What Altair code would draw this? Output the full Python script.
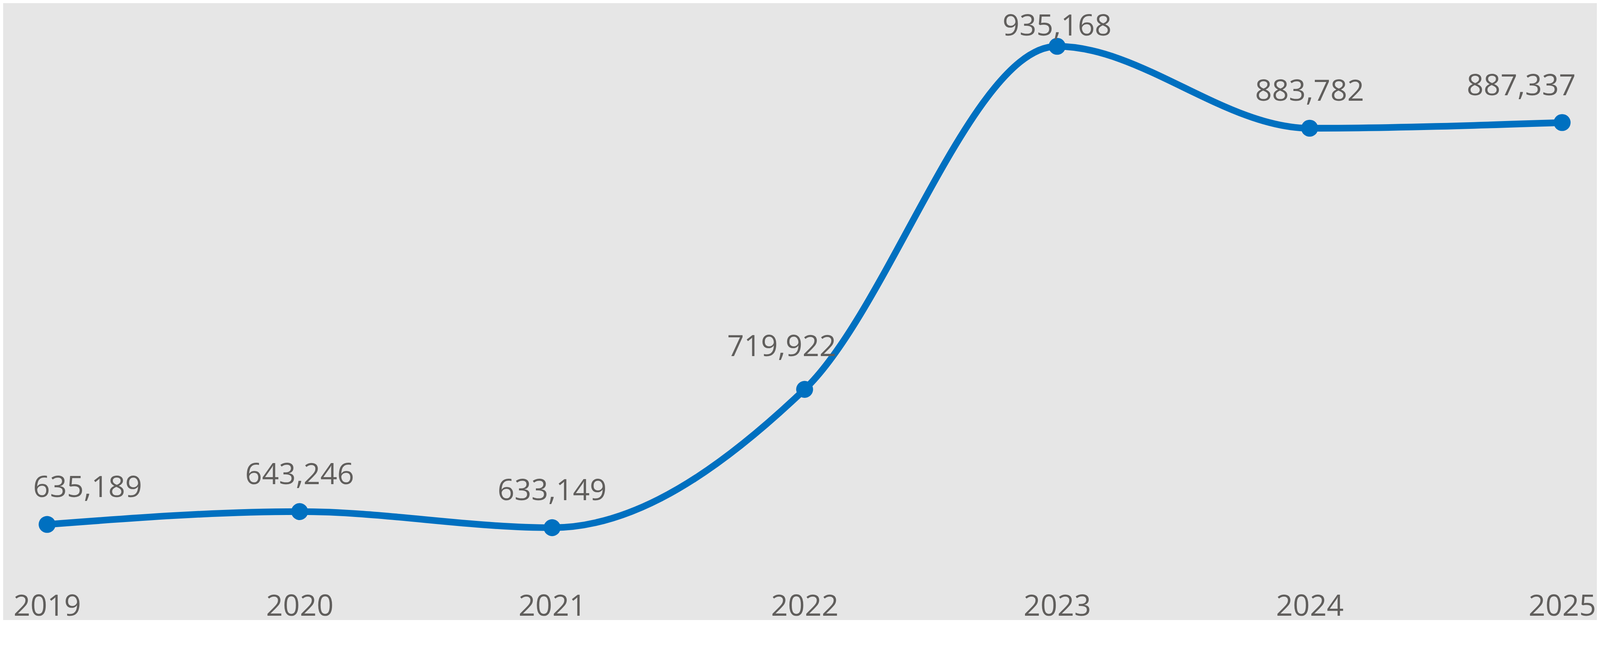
import altair as alt
import pandas as pd

years = [2019, 2020, 2021, 2022, 2023, 2024, 2025]
riders = [635189, 643246, 633149, 719922, 935168, 883782, 887337]

df = pd.DataFrame({"year": years, "value": riders})

LINE = "#0070C0"
TXT = "#605E5C"
FONT = "Open Sans"
FS = 80

x = alt.X("year:Q", scale=alt.Scale(domain=[2019, 2025], nice=False, zero=False),
          axis=alt.Axis(values=years, format="d", title=None, grid=False, domain=False,
                        ticks=False, labelFontSize=FS, labelFont=FONT, labelColor=TXT,
                        labelPadding=32, labelFlush=False, labelOverlap=False,
                        labelLimit=1000))
y = alt.Y("value:Q", scale=alt.Scale(domain=[600000, 950000], nice=False, zero=False),
          axis=None)

base = alt.Chart(df).encode(x=x, y=y)

line = base.mark_line(color=LINE, strokeWidth=18, interpolate="monotone")
pts = base.mark_point(color=LINE, filled=True, opacity=1, size=2100, shape="circle")


def lab(sel, align="center", dx=0, dy=-74):
    return base.transform_filter(sel).mark_text(
        font=FONT, fontSize=FS, color=TXT, align=align, baseline="alphabetic",
        dx=dx, dy=dy
    ).encode(text=alt.Text("value:Q", format=","))


labels = [
    lab("datum.year == 2019", align="left", dx=-38),
    lab("datum.year == 2020 || datum.year == 2021 || datum.year == 2024"),
    lab("datum.year == 2022", dx=-62, dy=-90),
    lab("datum.year == 2023", dy=-29),
    lab("datum.year == 2025", align="right", dx=37),
]

chart = alt.layer(line, pts, *labels).properties(
    width=4099, height=1510,
    autosize=alt.AutoSizeParams(type="none"),
    padding={"left": 119, "top": 8, "right": 94, "bottom": 62},
    background="#E6E6E6",
).configure_view(stroke=None)

chart.save("out.html", embed_options={"renderer": "svg", "actions": False})
